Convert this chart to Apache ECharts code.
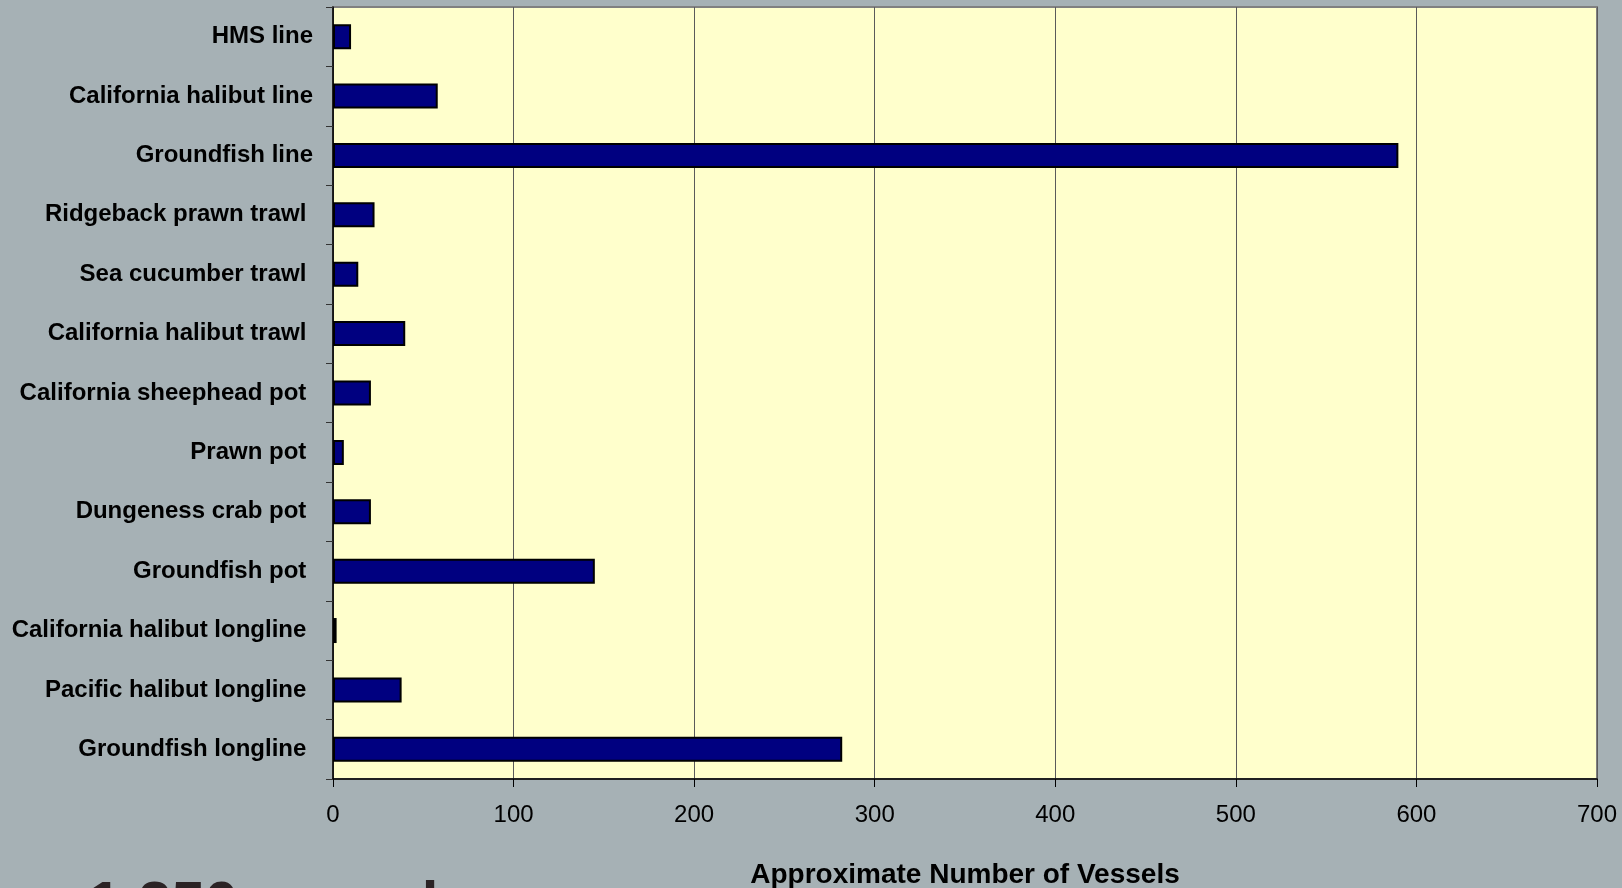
<!DOCTYPE html>
<html>
<head>
<meta charset="utf-8">
<script src="https://cdn.jsdelivr.net/npm/echarts@6/dist/echarts.min.js"></script>
<style>
html,body{margin:0;padding:0;background:#A6B1B5;}
#chart{width:1622px;height:888px;}
</style>
</head>
<body>
<div id="chart"></div>
<script>
// Categories top-to-bottom as in the picture
var categories = [
  "HMS line",
  "California halibut line",
  "Groundfish line",
  "Ridgeback prawn trawl ",
  "Sea cucumber trawl ",
  "California halibut trawl ",
  "California sheephead pot ",
  "Prawn pot ",
  "Dungeness crab pot ",
  "Groundfish pot ",
  "California halibut longline ",
  "Pacific halibut longline ",
  "Groundfish longline "
];
var vessels = [10, 58, 590, 23, 14, 40, 21, 6, 21, 145, 2, 38, 282];
var xTicks = [0, 100, 200, 300, 400, 500, 600, 700];
var xAxisTitle = "Approximate Number of Vessels";
var footerText = "1,250 vessels";

var chart = echarts.init(document.getElementById('chart'), null, {renderer: 'canvas'});
chart.setOption({
  backgroundColor: '#A6B1B5',
  animation: false,
  grid: {
    left: 333, right: 25, top: 7, bottom: 109,
    outerBoundsMode: 'none',
    containLabel: false,
    show: true,
    backgroundColor: '#FFFFCC',
    borderColor: '#808080',
    borderWidth: 2
  },
  xAxis: {
    type: 'value',
    min: xTicks[0],
    max: xTicks[xTicks.length - 1],
    interval: 100,
    name: xAxisTitle,
    nameLocation: 'middle',
    nameGap: 82,
    nameTextStyle: {fontFamily: 'Liberation Sans, Arial', fontWeight: 'bold', fontSize: 28, color: '#000', verticalAlign: 'top'},
    axisLine: {show: true, lineStyle: {color: '#000', width: 1.5}},
    axisTick: {show: true, length: 8, lineStyle: {color: '#000'}},
    axisLabel: {fontFamily: 'Liberation Sans, Arial', fontSize: 24, color: '#000', margin: 24},
    splitLine: {show: true, lineStyle: {color: '#5A5A5A', width: 1}}
  },
  yAxis: {
    type: 'category',
    data: categories,
    inverse: true,
    axisLine: {show: true, lineStyle: {color: '#000', width: 1.5}},
    axisTick: {show: true, length: 7, lineStyle: {color: '#333'}},
    axisLabel: {fontFamily: 'Liberation Sans, Arial', fontWeight: 'bold', fontSize: 24, color: '#000', margin: 20},
    splitLine: {show: false}
  },
  series: [{
    type: 'bar',
    data: vessels,
    barWidth: 25,
    itemStyle: {color: '#000080', borderColor: '#000', borderWidth: 2}
  }],
  graphic: [{
    type: 'text',
    left: 88,
    top: 876,
    style: {text: footerText, font: 'bold 60px "Liberation Sans", Arial', fill: '#2B2325'}
  }]
});
</script>
</body>
</html>
